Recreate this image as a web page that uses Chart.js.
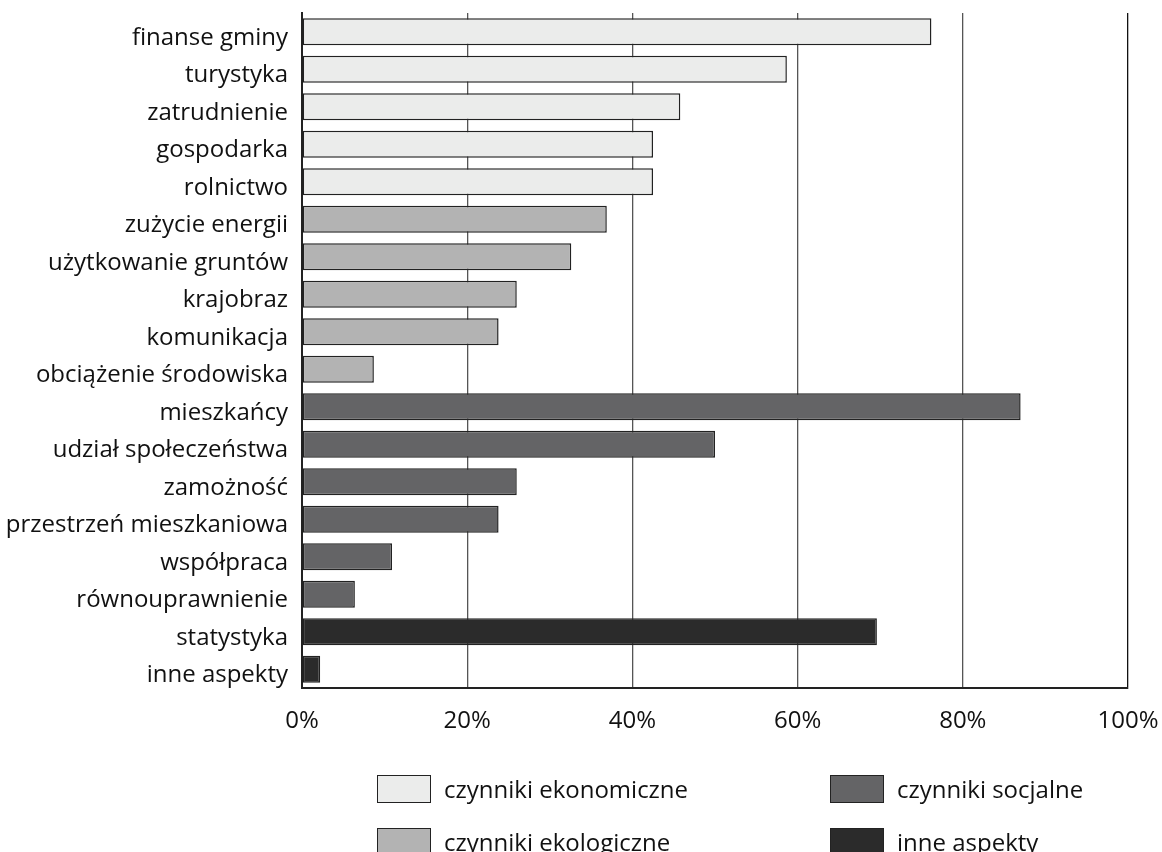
<!DOCTYPE html>
<html>
<head>
<meta charset="utf-8">
<script src="https://cdn.jsdelivr.net/npm/chart.js@4/dist/chart.umd.min.js"></script>
<style>
  html, body { margin: 0; padding: 0; background: #fff; }
  #wrap { position: relative; width: 1162px; height: 852px; overflow: hidden; }
  .leg { position: absolute; display: flex; align-items: center; font-family: "Open Sans", sans-serif; font-size: 24px; color: #111; }
  .leg span.box { display: inline-block; width: 52px; height: 26px; border: 1.5px solid #222; margin-right: 13px; }
</style>
</head>
<body>
<div id="wrap">
  <canvas id="chart" width="1162" height="852"></canvas>
  <div class="leg" style="left:377px; top:772px;"><span class="box" style="background:#ebeceb"></span>czynniki ekonomiczne</div>
  <div class="leg" style="left:830px; top:772px;"><span class="box" style="background:#646466"></span>czynniki socjalne</div>
  <div class="leg" style="left:377px; top:825px;"><span class="box" style="background:#b3b3b3"></span>czynniki ekologiczne</div>
  <div class="leg" style="left:830px; top:825px;"><span class="box" style="background:#2b2b2b"></span>inne aspekty</div>
</div>
<script>
const categories = [
  "finanse gminy", "turystyka", "zatrudnienie", "gospodarka", "rolnictwo",
  "zużycie energii", "użytkowanie gruntów", "krajobraz", "komunikacja", "obciążenie środowiska",
  "mieszkańcy", "udział społeczeństwa", "zamożność", "przestrzeń mieszkaniowa", "współpraca", "równouprawnienie",
  "statystyka", "inne aspekty"
];
const values = [76.2, 58.7, 45.8, 42.5, 42.5, 36.9, 32.6, 26.0, 23.8, 8.7, 87.0, 50.0, 26.0, 23.8, 10.9, 6.4, 69.6, 2.2];
const groups = ["eko", "eko", "eko", "eko", "eko", "ekol", "ekol", "ekol", "ekol", "ekol", "soc", "soc", "soc", "soc", "soc", "soc", "inne", "inne"];
const groupColors = { eko: "#ebeceb", ekol: "#b3b3b3", soc: "#646466", inne: "#2b2b2b" };
const xTicks = [0, 20, 40, 60, 80, 100];

const font = { family: "'Open Sans', sans-serif", size: 24 };

new Chart(document.getElementById("chart"), {
  type: "bar",
  data: {
    labels: categories,
    datasets: [{
      data: values,
      backgroundColor: groups.map(g => groupColors[g]),
      borderColor: "#222",
      borderWidth: 1.5,
      borderSkipped: false,
      barPercentage: 0.72,
      categoryPercentage: 1
    }]
  },
  options: {
    indexAxis: "y",
    responsive: false,
    animation: false,
    layout: { padding: { top: 13, right: 34, left: 0, bottom: 0 } },
    plugins: { legend: { display: false }, tooltip: { enabled: false } },
    scales: {
      x: {
        min: 0, max: 100,
        afterBuildTicks: s => { s.ticks = xTicks.map(v => ({ value: v })); },
        afterFit: s => { s.height = 852 - 688; s.paddingRight = 0; s.paddingLeft = 0; },
        ticks: { color: "#111", font: font, padding: 19, callback: v => v + "%" },
        grid: { color: c => (c.tick && c.tick.value === 100 ? "#111" : "#555"), lineWidth: 1.3, drawTicks: false },
        border: { display: true, color: "#222", width: 2 }
      },
      y: {
        afterFit: s => { s.width = 302; s.paddingTop = 0; s.paddingBottom = 0; },
        ticks: { color: "#111", font: font, padding: 14, labelOffset: 6 },
        grid: { display: false, drawTicks: false },
        border: { display: true, color: "#222", width: 2 }
      }
    }
  }
});
</script>
</body>
</html>
